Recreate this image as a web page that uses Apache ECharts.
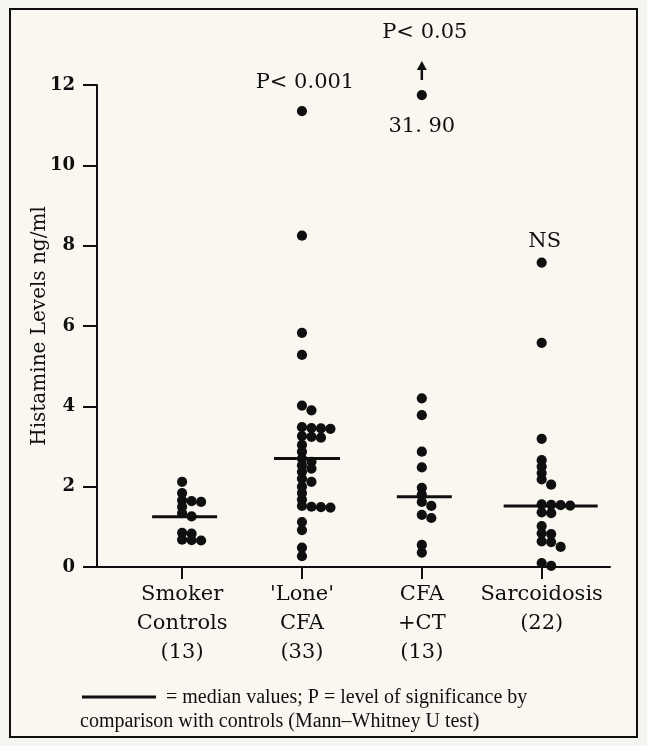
<!DOCTYPE html>
<html>
<head>
    <meta charset="UTF-8">
    <title>histamine</title>
    <style>
        html { overflow: hidden; }
        body { margin: 0; padding: 0; background: #f6f4ee; }
        #chart { width: 647px; height: 746px; }
    </style>
    <script type="text/javascript" src="https://cdn.jsdelivr.net/npm/echarts@6/dist/echarts.min.js"></script>
</head>
<body>
<div id="chart"></div>
<script>
    // groups along the x axis
    let categories = ['Smoker\nControls\n(13)', "'Lone'\nCFA\n(33)", 'CFA\n+CT\n(13)', 'Sarcoidosis\n(22)'];
    let yTicks = [0, 2, 4, 6, 8, 10, 12];

    // histamine levels ng/ml
    let smokers = [2.12, 1.84, 1.66, 1.64, 1.62, 1.5, 1.34, 1.26, 0.85, 0.83, 0.68, 0.67, 0.66];
    let loneCfa = [11.35, 8.25, 5.83, 5.28, 4.02, 3.9, 3.48, 3.46, 3.45, 3.44, 3.26, 3.24, 3.22, 3.04, 2.87,
        2.70, 2.62, 2.53, 2.45, 2.37, 2.2, 2.12, 2.0, 1.84, 1.68, 1.52, 1.50, 1.49, 1.48, 1.12, 0.92, 0.48, 0.27];
    let cfaCt = [31.90, 4.2, 3.78, 2.87, 2.48, 1.97, 1.8, 1.62, 1.52, 1.3, 1.22, 0.55, 0.36];
    let sarcoid = [7.58, 5.58, 3.19, 2.66, 2.5, 2.34, 2.18, 2.05, 1.56, 1.55, 1.54, 1.53, 1.36, 1.34,
        1.02, 0.84, 0.82, 0.64, 0.62, 0.50, 0.1, 0.03];
    let medians = [1.25, 2.7, 1.75, 1.52];
    let pLabels = ['', 'P< 0.001', 'P< 0.05', 'NS'];

    let groups = [smokers, loneCfa, cfaCt, sarcoid];
    let offScaleShown = 11.75;   // where the 31.90 point is drawn
    let stackGap = 0.155;        // closer than this -> next column to the right

    // simple beeswarm: walk down the values, move right when a column is taken
    let dots = [];
    let offScale = [];
    groups.forEach(function (vals, gi) {
        let last = [];
        vals.slice().sort(function (a, b) { return b - a; }).forEach(function (v) {
            let shown = Math.min(v, offScaleShown);
            let c = 0;
            while (last[c] !== undefined && last[c] - shown < stackGap) c++;
            last[c] = shown;
            dots.push([gi + 1, shown, c]);
            if (v > 12) offScale.push([gi + 1, shown, v]);
        });
    });

    let medianSpan = [[-30, 35], [-28, 38], [-25, 30], [-38, 56]];
    let serif = '"DejaVu Serif", "Liberation Serif", serif';
    let ink = '#0f0f0f';

    let chartContainer = document.getElementById('chart');
    let myChart = echarts.init(chartContainer, null, {renderer: 'canvas', width: 647, height: 746});

    let option = {
        animation: false,
        backgroundColor: '#f6f4ee',
        grid: {left: 97, right: 37, top: 85, bottom: 179, containLabel: false},
        xAxis: {
            type: 'value',
            min: 0.29,
            max: 4.57,
            splitLine: {show: false},
            axisLine: {show: true, lineStyle: {color: ink, width: 2}},
            axisTick: {show: true, length: 12, customValues: [1, 2, 3, 4], lineStyle: {color: ink, width: 2}},
            axisLabel: {
                customValues: [1, 2, 3, 4],
                formatter: function (v) { return categories[Math.round(v) - 1]; },
                color: ink,
                fontFamily: serif,
                fontSize: 21,
                lineHeight: 29,
                margin: 13
            }
        },
        yAxis: {
            type: 'value',
            min: 0,
            max: 12,
            interval: 2,
            name: 'Histamine Levels ng/ml',
            nameLocation: 'middle',
            nameGap: 57,
            nameRotate: 90,
            nameMoveOverlap: false,
            nameTextStyle: {color: ink, fontFamily: serif, fontSize: 20, verticalAlign: 'middle'},
            splitLine: {show: false},
            axisLine: {show: true, lineStyle: {color: ink, width: 2}},
            axisTick: {show: true, length: 14, lineStyle: {color: ink, width: 2}},
            axisLabel: {
                color: ink,
                fontFamily: serif,
                fontWeight: 'bold',
                fontSize: 18,
                margin: 22,
                formatter: function (v) { return yTicks.indexOf(v) >= 0 ? String(v) : ''; }
            }
        },
        graphic: [
            {type: 'rect', z: -10, shape: {x: 10, y: 9, width: 627, height: 728},
                style: {fill: '#f9f7f0', stroke: ink, lineWidth: 2}},
            {type: 'line', shape: {x1: 82, y1: 697, x2: 156, y2: 697}, style: {stroke: ink, lineWidth: 3}},
            {type: 'text', x: 166, y: 698, style: {text: '= median values; P = level of significance by',
                    font: '20px "Liberation Serif", serif', fill: ink, verticalAlign: 'middle'}},
            {type: 'text', x: 80, y: 722, style: {text: 'comparison with controls (Mann\u2013Whitney U test)',
                    font: '20px "Liberation Serif", serif', fill: ink, verticalAlign: 'middle'}}
        ],
        series: [
            {
                type: 'custom',
                name: 'points',
                clip: false,
                data: dots,
                encode: {x: 0, y: 1},
                renderItem: function (params, api) {
                    let p = api.coord([api.value(0), api.value(1)]);
                    return {type: 'circle', shape: {cx: p[0] + api.value(2) * 9.5, cy: p[1], r: 5.1},
                        style: {fill: ink}};
                }
            },
            {
                type: 'custom',
                name: 'median',
                clip: false,
                data: medians.map(function (m, i) { return [i + 1, m]; }),
                encode: {x: 0, y: 1},
                renderItem: function (params, api) {
                    let p = api.coord([api.value(0), api.value(1)]);
                    let s = medianSpan[params.dataIndex];
                    return {type: 'line', shape: {x1: p[0] + s[0], y1: p[1], x2: p[0] + s[1], y2: p[1]},
                        style: {stroke: ink, lineWidth: 3}};
                }
            },
            {
                type: 'custom',
                name: 'off scale',
                clip: false,
                data: offScale,
                encode: {x: 0, y: 1},
                renderItem: function (params, api) {
                    let p = api.coord([api.value(0), api.value(1)]);
                    return {type: 'group', children: [
                        {type: 'line', shape: {x1: p[0], y1: p[1] - 15, x2: p[0], y2: p[1] - 26},
                            style: {stroke: ink, lineWidth: 2.5}},
                        {type: 'polygon', shape: {points: [[p[0] - 5, p[1] - 25], [p[0] + 5, p[1] - 25], [p[0], p[1] - 34]]},
                            style: {fill: ink}},
                        {type: 'text', x: p[0], y: p[1] + 32, style: {text: api.value(2).toFixed(2).replace('.', '. '),
                                font: '21px ' + serif, fill: ink, align: 'center', verticalAlign: 'middle'}}
                    ]};
                }
            },
            {
                type: 'custom',
                name: 'significance',
                clip: false,
                data: [[2, 12.05, 1], [3, 13.3, 2], [4, 8.1, 3]],
                encode: {x: 0, y: 1},
                renderItem: function (params, api) {
                    let p = api.coord([api.value(0), api.value(1)]);
                    return {type: 'text', x: p[0] + 3, y: p[1], style: {text: pLabels[api.value(2)],
                            font: '21px ' + serif, fill: ink, align: 'center', verticalAlign: 'middle'}};
                }
            }
        ]
    };
    myChart.setOption(option);
</script>
</body>
</html>
